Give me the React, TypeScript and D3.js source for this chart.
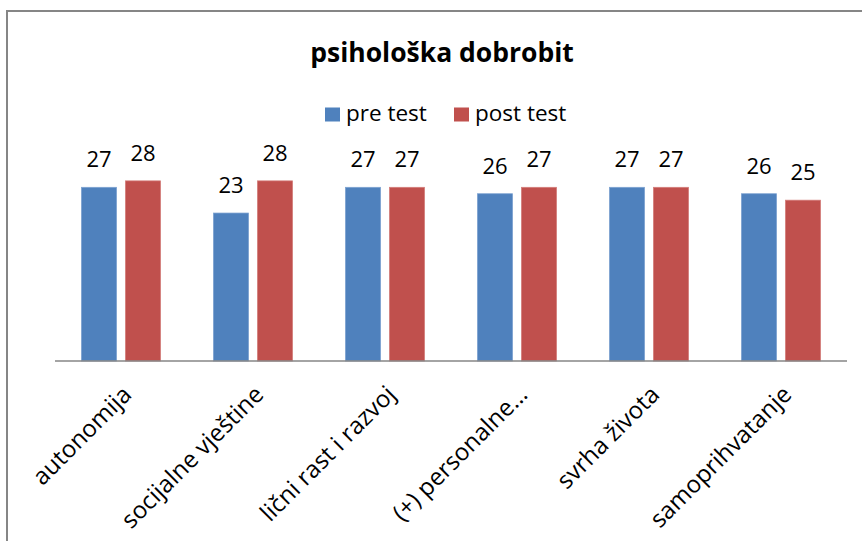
import React from "react";
import * as d3 from "d3";

const title = "psihološka dobrobit";
const categories = [
  "autonomija",
  "socijalne vještine",
  "lični rast i razvoj",
  "(+) personalne…",
  "svrha života",
  "samoprihvatanje",
];
const seriesNames = ["pre test", "post test"];
const preTest = [27, 23, 27, 26, 27, 26];
const postTest = [28, 28, 27, 27, 27, 25];
const seriesColors = ["#4F81BD", "#C0504D"];
const seriesStroke = ["#7EA3D1", "#D47F7C"];

const W = 862;
const H = 541;
const FONT = "'Open Sans', 'DejaVu Sans', sans-serif";

export default function App() {
  const baseY = 361;
  const x0 = d3
    .scaleBand<string>()
    .domain(categories)
    .range([55, 847])
    .paddingInner(0.4)
    .paddingOuter(0.2);
  const x1 = d3
    .scaleBand<string>()
    .domain(seriesNames)
    .range([0, x0.bandwidth()])
    .paddingInner(0.2);
  const y = d3.scaleLinear().domain([0, 30]).range([baseY, 168]);
  const values = [preTest, postTest];

  return (
    <svg
      width={W}
      height={H}
      style={{ position: "absolute", left: 0, top: 0, display: "block", background: "#fff" }}
      fontFamily={FONT}
    >
      <rect x={7} y={11} width={W + 50} height={H + 50} fill="#fff" stroke="#868686" strokeWidth={2} />
      <text x={442} y={62} textAnchor="middle" fontSize={26.5} fontWeight="bold" fill="#000">
        {title}
      </text>
      {/* legend */}
      <g>
        <rect x={325} y={107.5} width={15} height={14} fill={seriesColors[0]} />
        <text x={346} y={121} fontSize={22.5} fill="#000">
          {seriesNames[0]}
        </text>
        <rect x={454} y={107.5} width={15} height={14} fill={seriesColors[1]} />
        <text x={475} y={121} fontSize={22.5} fill="#000">
          {seriesNames[1]}
        </text>
      </g>
      {/* bars */}
      {categories.map((c, i) => (
        <g key={c}>
          {seriesNames.map((s, j) => {
            const v = values[j][i];
            const bx = (x0(c) ?? 0) + (x1(s) ?? 0);
            const bw = x1.bandwidth();
            return (
              <g key={s}>
                <rect
                  x={bx}
                  y={y(v)}
                  width={bw}
                  height={baseY - y(v)}
                  fill={seriesColors[j]}
                  stroke={seriesStroke[j]}
                  strokeWidth={0.75}
                />
                <text x={bx + bw / 2} y={y(v) - 20} textAnchor="middle" fontSize={22} fill="#000">
                  {v}
                </text>
              </g>
            );
          })}
        </g>
      ))}
      {/* axis */}
      <line x1={55} x2={847} y1={baseY} y2={baseY} stroke="#868686" strokeWidth={1.5} />
      {categories.map((c) => {
        const cx = (x0(c) ?? 0) + x0.bandwidth() / 2 + 12;
        const cy = 396;
        return (
          <text
            key={c}
            x={cx}
            y={cy}
            transform={`rotate(-45 ${cx} ${cy})`}
            textAnchor="end"
            fontSize={24}
            fill="#000"
          >
            {c}
          </text>
        );
      })}
    </svg>
  );
}
